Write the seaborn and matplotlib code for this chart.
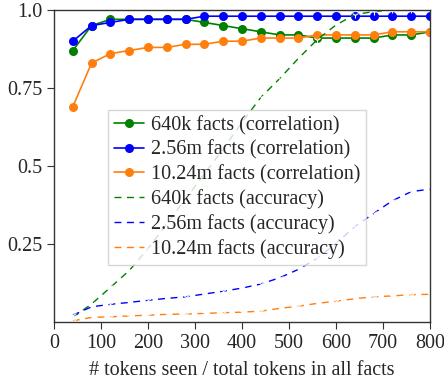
import numpy as np
import pandas as pd
import matplotlib
matplotlib.use("Agg")
import matplotlib.pyplot as plt
import seaborn as sns

# x positions: tokens seen / total tokens in all facts
steps = [40, 80, 120, 160, 200, 240, 280, 320, 360, 400,
         440, 480, 520, 560, 600, 640, 680, 720, 760, 800]

# correlation curves
corr_640k = [0.87, 0.95, 0.97, 0.97, 0.97, 0.97, 0.97, 0.96, 0.95, 0.94,
             0.93, 0.92, 0.92, 0.91, 0.91, 0.91, 0.91, 0.92, 0.92, 0.93]
corr_2_56m = [0.90, 0.95, 0.96, 0.97, 0.97, 0.97, 0.97, 0.98, 0.98, 0.98,
              0.98, 0.98, 0.98, 0.98, 0.98, 0.98, 0.98, 0.98, 0.98, 0.98]
corr_10_24m = [0.69, 0.83, 0.86, 0.87, 0.88, 0.88, 0.89, 0.89, 0.90, 0.90,
               0.91, 0.91, 0.91, 0.92, 0.92, 0.92, 0.92, 0.93, 0.93, 0.93]

# accuracy curves
acc_640k = [0.015, 0.058, 0.111, 0.165, 0.235, 0.315, 0.395, 0.475, 0.555, 0.64,
            0.72, 0.78, 0.845, 0.905, 0.952, 0.985, 0.995, 1.0, 1.0, 1.0]
acc_2_56m = [0.022, 0.049, 0.057, 0.063, 0.070, 0.076, 0.081, 0.090, 0.099, 0.109,
             0.122, 0.142, 0.169, 0.204, 0.252, 0.306, 0.348, 0.389, 0.418, 0.426]
acc_10_24m = [0.004, 0.015, 0.017, 0.020, 0.022, 0.025, 0.026, 0.028, 0.030, 0.032,
              0.035, 0.044, 0.051, 0.060, 0.067, 0.075, 0.081, 0.084, 0.088, 0.089]

labels = ["640k facts", "2.56m facts", "10.24m facts"]
colors = ["green", "blue", "#ff7f0e"]

sns.set_style("ticks")
plt.rcParams["font.family"] = ["Liberation Serif", "DejaVu Serif"]

fig = plt.figure(figsize=(4.44, 3.83), dpi=100)
ax = fig.add_axes([0.1216, 0.159, 0.847, 0.815])

corr = [corr_640k, corr_2_56m, corr_10_24m]
acc = [acc_640k, acc_2_56m, acc_10_24m]

for lab, col, ys in zip(labels, colors, corr):
    sns.lineplot(x=steps, y=ys, ax=ax, color=col, marker="o", markersize=6.5,
                 markeredgewidth=0, linewidth=1.2, label=f"{lab} (correlation)")
for lab, col, ys in zip(labels, colors, acc):
    sns.lineplot(x=steps, y=ys, ax=ax, color=col, linestyle=(0, (5, 4)), linewidth=1.0,
                 marker="1", markersize=5, label=f"{lab} (accuracy)")

ax.set_xlim(0, 800)
ax.set_ylim(0, 1.0)
ax.set_xticks(range(0, 801, 100))
ax.set_yticks([0.25, 0.5, 0.75, 1.0])
ax.set_yticklabels(["0.25", "0.5", "0.75", "1.0"])
ax.tick_params(labelsize=14.5, direction="out", length=5, color="#333333")
ax.set_xlabel("# tokens seen / total tokens in all facts", fontsize=14.5, labelpad=6)

for sp in ax.spines.values():
    sp.set_color("#333333")
    sp.set_linewidth(1.0)

leg = ax.legend(loc="upper left", bbox_to_anchor=(0.143, 0.68), fontsize=14.5,
                fancybox=False, framealpha=0.8, edgecolor="#cccccc",
                handlelength=1.5, handletextpad=0.35, labelspacing=0.25,
                borderpad=0.3, borderaxespad=0)
leg.get_frame().set_linewidth(1.0)
# accuracy entries show plain dashes in the legend
for h in leg.get_lines()[3:]:
    h.set_marker("")

fig.savefig("out.png", dpi=100)
